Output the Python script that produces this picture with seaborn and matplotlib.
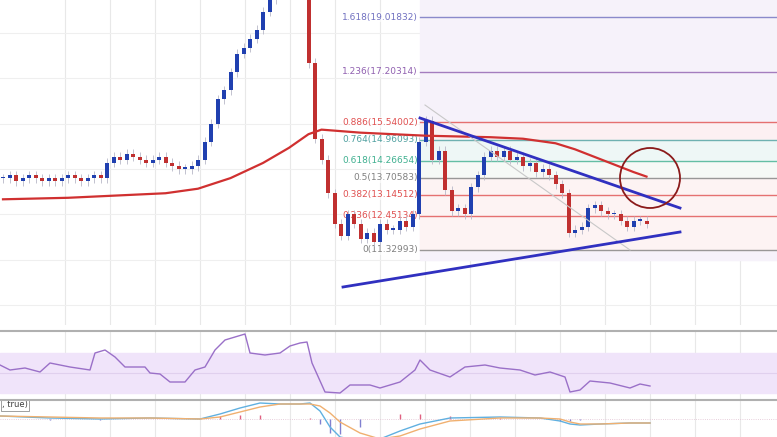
import numpy as np
import pandas as pd
import seaborn as sns
import matplotlib.pyplot as plt
from matplotlib.patches import Circle

# candle closes (price), one per candle
closes = [13.7, 13.8, 13.6, 13.7, 13.8, 13.7, 13.6, 13.7, 13.6, 13.7, 13.8, 13.7, 13.6, 13.7, 13.8, 13.7,
          14.2, 14.4, 14.3, 14.5, 14.4, 14.3, 14.2, 14.3, 14.4, 14.2, 14.1, 14.0, 14.0, 14.1, 14.3,
          14.9, 15.5, 16.3, 16.6, 17.2, 17.8, 18.0, 18.3, 18.6, 19.2, 19.6, 20.0, 20.2, 20.4, 20.0, 19.8,
          17.5, 15.0, 14.3, 13.2, 12.2, 11.8, 12.5, 12.2, 11.7, 11.9, 11.6, 12.2, 12.0, 12.0, 12.3, 12.1,
          12.5, 14.9, 15.6, 14.3, 14.6, 13.3, 12.6, 12.7, 12.5, 13.4, 13.8, 14.4, 14.6, 14.4, 14.6, 14.3,
          14.4, 14.1, 14.2, 13.9, 14.0, 13.8, 13.5, 13.2, 11.9, 12.0, 12.1, 12.7, 12.8, 12.6, 12.5, 12.5,
          12.3, 12.1, 12.3, 12.3, 12.2]
opens = [13.7] + closes[:-1]

ma_idx = [0, 10, 20, 25, 30, 35, 40, 44, 47, 49, 55, 65, 75, 80, 85, 88, 91, 94, 97, 99]
ma_val = [13.0, 13.05, 13.15, 13.2, 13.35, 13.7, 14.2, 14.7, 15.15, 15.3, 15.2, 15.1, 15.05, 15.0, 14.85,
          14.65, 14.4, 14.15, 13.9, 13.75]

fib_ratio = ["1.618", "1.236", "0.886", "0.764", "0.618", "0.5", "0.382", "0.236", "0"]
fib_price = [19.01832, 17.20314, 15.54002, 14.96093, 14.26654, 13.70583, 13.14512, 12.45134, 11.32993]
fib_color = ["#7070c0", "#9060b0", "#e05050", "#50a0a0", "#40b090", "#808080", "#e05050", "#e05050", "#808080"]

rsi_x = [0, 10, 25, 40, 50, 60, 70, 90, 95, 105, 115, 125, 145, 150, 160, 170, 185, 195, 205, 215, 225,
         245, 250, 265, 280, 290, 300, 307, 312, 325, 340, 350, 370, 380, 400, 415, 420, 430, 450, 465,
         485, 500, 520, 535, 550, 565, 570, 580, 590, 610, 630, 640, 650]
rsi_y = [58, 53, 55, 51, 60, 58, 56, 53, 70, 73, 66, 56, 56, 50, 49, 41, 41, 53, 56, 73, 83,
         89, 70, 68, 70, 77, 80, 81, 60, 31, 30, 38, 38, 35, 41, 53, 63, 53, 46, 56,
         58, 55, 53, 48, 51, 46, 31, 33, 42, 40, 35, 39, 37]

macd_x = [0, 50, 100, 150, 200, 220, 240, 260, 280, 300, 310, 320, 330, 340, 360, 380, 400, 420, 450,
          500, 540, 560, 570, 580, 600, 630, 650]
macd = [3, 1, 0, 1, 0, 5, 11, 16, 15, 15, 16, 8, -8, -18, -22, -20, -12, -5, 1, 2, 1, -2, -5, -6, -5, -4, -4]
signal = [3, 2, 1, 1, 0, 2, 7, 12, 15, 15, 15, 13, 6, -3, -14, -20, -17, -10, -2, 1, 1, 0, -3, -5, -5, -4, -4]

W, H = 777, 437
fig = plt.figure(figsize=(W / 100, H / 100), dpi=100)
ax = fig.add_axes([0, 1 - 325 / H, 1, 325 / H])
ax_rsi = fig.add_axes([0, 1 - 400 / H, 1, 68 / H])
ax_m = fig.add_axes([0, 0, 1, 37 / H])

step = 6.5
px = np.arange(len(closes)) * step + 3
for a in (ax, ax_rsi, ax_m):
    a.set_xlim(0, W)
    a.set_xticks([]); a.set_yticks([])
    for s in a.spines.values():
        s.set_visible(False)
    for gx in range(65, W, 45):
        a.axvline(gx, color="#e8e8e8", lw=0.8, zorder=0)

ymax, ymin = 19.58, 8.85
ax.set_ylim(ymin, ymax)
for gy in np.arange(9.5, 19.6, 1.5):
    ax.axhline(gy, color="#efefef", lw=0.8, zorder=0)

# fib zone
ax.axvspan(420, W, ymin=(11.0 - ymin) / (ymax - ymin), color="#f6f2fa", zorder=0)
ax.fill_between([420, W], fib_price[3], fib_price[2], color="#fcf0f2", zorder=0)
ax.fill_between([420, W], fib_price[4], fib_price[3], color="#eef7f6", zorder=0)
ax.fill_between([420, W], fib_price[5], fib_price[4], color="#f6f9f6", zorder=0)
ax.fill_between([420, W], fib_price[8], fib_price[5], color="#fdf3f3", zorder=0)
for r, p, c in zip(fib_ratio, fib_price, fib_color):
    ax.plot([420, W], [p, p], color=c, lw=1, alpha=0.8, zorder=1)
    ax.text(418, p, f"{r}({p:.5f})", color=c, fontsize=6.5, ha="right", va="center",
            bbox=dict(fc="white", ec="none", pad=0.5, alpha=0.6), zorder=2)

# candles
for x, o, c in zip(px, opens, closes):
    col = "#2040b0" if c >= o else "#c03030"
    lo, hi = min(o, c), max(o, c)
    ax.vlines(x, lo - 0.15, hi + 0.15, color="#b8b8c8", lw=0.6, zorder=3)
    ax.bar(x, max(hi - lo, 0.05), bottom=lo, width=4, color=col, zorder=4)

ma_df = pd.DataFrame({"x": np.array(ma_idx) * step + 3, "y": ma_val})
sns.lineplot(data=ma_df, x="x", y="y", ax=ax, color="#d03030", lw=1.6, zorder=5)

# trendlines and annotations
to_p = lambda y: ymax - y * (ymax - ymin) / 325
ax.plot([425, 630], [to_p(105), to_p(250)], color="#c8c8c8", lw=0.8, zorder=5)
ax.plot([420, 680], [to_p(118), to_p(208)], color="#3030c0", lw=2, zorder=6)
ax.plot([343, 680], [to_p(287), to_p(232)], color="#3030c0", lw=2, zorder=6)
cx, cy = ax.transData.transform((650, to_p(178)))
fig.add_artist(Circle((cx, cy), 30, transform=None, fill=False, ec="#8b1a1a", lw=1.3))

fig.add_artist(plt.Line2D([0, 1], [1 - 331 / H] * 2, color="#b0b0b0", lw=1.5))
fig.add_artist(plt.Line2D([0, 1], [1 - 400 / H] * 2, color="#b0b0b0", lw=1.5))

# RSI
ax_rsi.set_ylim(23, 91)
ax_rsi.axhspan(30, 70, color="#f0e4fa", zorder=0)
ax_rsi.axhline(50, color="#e0d0ee", lw=0.8)
sns.lineplot(x=rsi_x, y=rsi_y, ax=ax_rsi, color="#9a70c8", lw=1)

# MACD
ax_m.set_ylim(-18, 19)
ax_m.axhline(0, color="#e0c0d0", lw=0.6, ls=":")
hist = np.array(macd) - np.array(signal)
ax_m.vlines(macd_x, 0, hist, color=np.where(hist >= 0, "#e06080", "#8080d0"), lw=1)
sns.lineplot(x=macd_x, y=macd, ax=ax_m, color="#60b0e0", lw=1)
sns.lineplot(x=macd_x, y=signal, ax=ax_m, color="#f0b070", lw=1)
ax_m.text(2, 14, ", true)", fontsize=6, va="center", color="#404040",
          bbox=dict(fc="white", ec="#909090", pad=0.8, lw=0.6))
for a in (ax, ax_rsi, ax_m):
    a.set_xlabel(""); a.set_ylabel("")

fig.savefig("out.png", dpi=100)
